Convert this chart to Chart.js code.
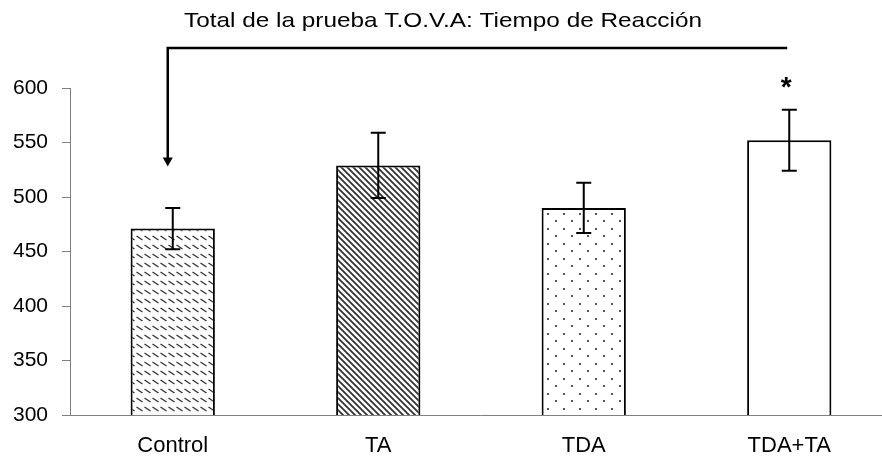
<!DOCTYPE html>
<html>
<head>
<meta charset="utf-8">
<script src="https://cdn.jsdelivr.net/npm/chart.js@4/dist/chart.umd.min.js"></script>
<style>
  html, body { margin: 0; padding: 0; background: #fff; overflow: hidden; }
  #wrap { width: 882px; height: 461px; position: relative; overflow: hidden; }
</style>
</head>
<body>
<div id="wrap"><canvas id="chart" width="892" height="461"></canvas></div>
<script>
var titleText = 'Total de la prueba T.O.V.A: Tiempo de Reacción';
var categories = ['Control', 'TA', 'TDA', 'TDA+TA'];
var means = [471, 529, 490, 552];
var errors = [19, 30, 23, 28];
var yTicks = [300, 350, 400, 450, 500, 550, 600];
var arrowTipValue = 528;   // where the comparison arrow ends, in axis units
var starIndex = 3;         // bar marked with *

var FONT = '"Liberation Sans", Arial, sans-serif';

function makePattern(kind) {
	var c = document.createElement('canvas');
	var ctx = c.getContext('2d');
	if (kind == 'dash') {
		c.width = 8; c.height = 9;
		ctx.fillStyle = '#fff';
		ctx.fillRect(0, 0, 8, 9);
		ctx.strokeStyle = '#333';
		ctx.lineWidth = 1.4;
		ctx.beginPath();
		ctx.moveTo(0.5, 2);
		ctx.lineTo(6.5, 6);
		ctx.stroke();
	} else if (kind == 'hatch') {
		c.width = 6; c.height = 6;
		ctx.fillStyle = '#fff';
		ctx.fillRect(0, 0, 6, 6);
		ctx.strokeStyle = '#333';
		ctx.lineWidth = 1.8;
		ctx.beginPath();
		ctx.moveTo(-1, -1); ctx.lineTo(7, 7);
		ctx.moveTo(-4, 2); ctx.lineTo(4, 10);
		ctx.moveTo(2, -4); ctx.lineTo(10, 4);
		ctx.stroke();
	} else if (kind == 'dots') {
		c.width = 16; c.height = 15;
		ctx.fillStyle = '#fff';
		ctx.fillRect(0, 0, 16, 15);
		ctx.fillStyle = '#555';
		ctx.fillRect(3, 3, 2, 2);
		ctx.fillRect(11, 10, 2, 2);
	} else {
		c.width = 4; c.height = 4;
		ctx.fillStyle = '#fff';
		ctx.fillRect(0, 0, 4, 4);
	}
	return document.getElementById('chart').getContext('2d').createPattern(c, 'repeat');
}

var fills = [makePattern('dash'), makePattern('hatch'), makePattern('dots'), makePattern('plain')];

var extras = {
	id: 'extras',
	afterDatasetsDraw: function(chart) {
		var ctx = chart.ctx;
		var y = chart.scales.y;
		var meta = chart.getDatasetMeta(0);
		ctx.save();
		ctx.strokeStyle = '#000';
		ctx.lineWidth = 2;
		for (var i = 0; i < means.length; i++) {
			var x = meta.data[i].x;
			var top = y.getPixelForValue(means[i] + errors[i]);
			var bot = y.getPixelForValue(means[i] - errors[i]);
			ctx.beginPath();
			ctx.moveTo(x, top); ctx.lineTo(x, bot);
			ctx.moveTo(x - 7.5, top); ctx.lineTo(x + 7.5, top);
			ctx.moveTo(x - 7.5, bot); ctx.lineTo(x + 7.5, bot);
			ctx.stroke();
		}
		ctx.restore();
	},
	afterDraw: function(chart) {
		var ctx = chart.ctx;
		var y = chart.scales.y;
		var xs = chart.scales.x;
		var area = chart.chartArea;
		ctx.save();

		// title, stretched sideways like the original
		ctx.fillStyle = '#000';
		ctx.font = '21px ' + FONT;
		ctx.textAlign = 'center';
		ctx.textBaseline = 'alphabetic';
		var w = ctx.measureText(titleText).width;
		ctx.save();
		ctx.translate(443, 27);
		ctx.scale(518 / w, 1);
		ctx.fillText(titleText, 0, 0);
		ctx.restore();

		// bracket with arrow
		var lx = xs.getPixelForValue(0) - 5;
		var rx = xs.getPixelForValue(3) - 2;
		var by = area.top - 40;
		var tip = y.getPixelForValue(arrowTipValue);
		ctx.strokeStyle = '#000';
		ctx.lineWidth = 2.5;
		ctx.beginPath();
		ctx.moveTo(rx, by);
		ctx.lineTo(lx, by);
		ctx.lineTo(lx, tip - 7);
		ctx.stroke();
		ctx.beginPath();
		ctx.moveTo(lx - 5, tip - 9);
		ctx.lineTo(lx + 5, tip - 9);
		ctx.lineTo(lx, tip);
		ctx.closePath();
		ctx.fill();

		// significance mark
		var sx = chart.getDatasetMeta(0).data[starIndex].x;
		var sy = y.getPixelForValue(means[starIndex] + errors[starIndex]) - 29;
		ctx.font = 'bold 28px ' + FONT;
		ctx.textBaseline = 'alphabetic';
		ctx.fillText('*', sx - 3, sy + 15);
		ctx.restore();
	}
};

new Chart(document.getElementById('chart'), {
	type: 'bar',
	data: {
		labels: categories,
		datasets: [{
			data: means,
			backgroundColor: fills,
			borderColor: '#000',
			borderWidth: 2,
			borderSkipped: false,
			barPercentage: 0.41,
			categoryPercentage: 1
		}]
	},
	plugins: [extras],
	options: {
		responsive: false,
		animation: false,
		layout: { padding: { top: 88, right: 0, left: 0, bottom: 0 } },
		plugins: {
			legend: { display: false },
			tooltip: { enabled: false },
			title: { display: false }
		},
		scales: {
			x: {
				offset: true,
				grid: { display: false, drawTicks: false },
				border: { display: true, color: '#808080', width: 1 },
				ticks: { color: '#000', font: { family: FONT, size: 22 }, padding: 18 },
				afterFit: function(scale) { scale.height = 46; }
			},
			y: {
				min: 300,
				max: 600,
				afterBuildTicks: function(scale) {
					scale.ticks = yTicks.map(function(v) { return { value: v }; });
				},
				grid: { drawOnChartArea: false, drawTicks: true, tickLength: 8, color: '#808080' },
				border: { display: true, color: '#808080', width: 1 },
				ticks: { color: '#000', font: { family: FONT, size: 21 }, padding: 14 },
				afterFit: function(scale) { scale.width = 70; }
			}
		}
	}
});
</script>
</body>
</html>
